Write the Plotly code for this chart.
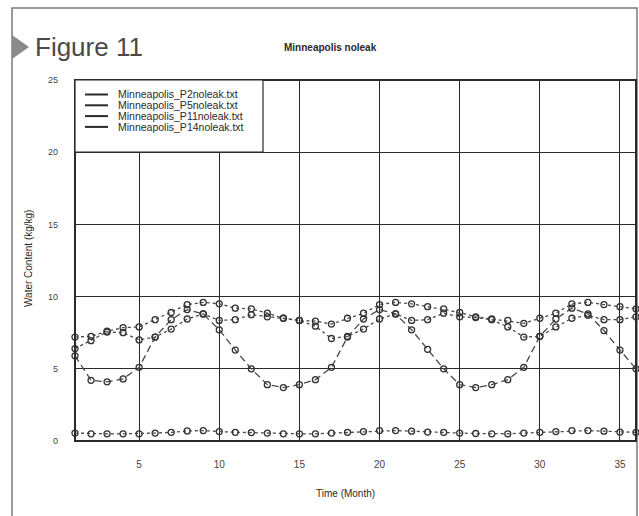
import plotly.graph_objects as go

months = list(range(1, 37))

p2 = [5.9, 4.2, 4.1, 4.3, 5.1, 7.2, 8.4, 9.1, 8.8, 7.7, 6.3, 5.0,
      3.9, 3.7, 3.9, 4.25, 5.1, 7.2, 8.45, 9.1, 8.8, 7.7, 6.35, 5.0,
      3.9, 3.7, 3.9, 4.25, 5.1, 7.25, 8.45, 9.2, 8.8, 7.65, 6.3, 5.0]

p5 = [6.4, 6.95, 7.55, 7.5, 7.0, 7.2, 7.75, 8.45, 8.8, 8.35, 8.4, 8.75,
      8.6, 8.5, 8.35, 7.95, 7.1, 7.25, 7.75, 8.45, 8.8, 8.35, 8.4, 8.85,
      8.6, 8.55, 8.4, 7.9, 7.2, 7.25, 7.9, 8.5, 8.7, 8.4, 8.4, 8.6]

p11 = [7.2, 7.25, 7.6, 7.85, 7.9, 8.4, 8.9, 9.45, 9.6, 9.5, 9.2, 9.15,
       8.85, 8.5, 8.35, 8.3, 8.1, 8.5, 8.85, 9.45, 9.6, 9.5, 9.3, 9.15,
       8.9, 8.6, 8.45, 8.35, 8.15, 8.5, 8.85, 9.5, 9.6, 9.45, 9.3, 9.15]

p14 = [0.55, 0.5, 0.5, 0.5, 0.5, 0.55, 0.6, 0.7, 0.72, 0.65, 0.6, 0.58,
       0.55, 0.5, 0.5, 0.5, 0.55, 0.6, 0.65, 0.72, 0.72, 0.68, 0.62, 0.6,
       0.55, 0.52, 0.5, 0.5, 0.55, 0.6, 0.65, 0.72, 0.72, 0.68, 0.62, 0.6]

names = ["Minneapolis_P2noleak.txt", "Minneapolis_P5noleak.txt",
         "Minneapolis_P11noleak.txt", "Minneapolis_P14noleak.txt"]
series = [p2, p5, p11, p14]
dashes = ["7px,4px", "3px,3px", "3px,3px", "3px,3px"]

x_ticks = [5, 10, 15, 20, 25, 30, 35]
y_ticks = [0, 5, 10, 15, 20, 25]

INK = "#2a2a2a"
FONT = "Liberation Sans, Arial, sans-serif"

fig = go.Figure()
for name, ys, d in zip(names, series, dashes):
    fig.add_trace(go.Scatter(
        x=months, y=ys, mode="lines+markers", name=name, showlegend=False,
        line=dict(color="#4a4a4a", width=1.3, dash=d),
        marker=dict(symbol="circle-open", size=6, color="#333333",
                    line=dict(width=1.3, color="#333333")),
        cliponaxis=False,
    ))

# plot area in pixels: x 75..636, y 80..441
L, R, T, B = 75, 636, 80, 441
W, H = R - L, B - T
def px(x):
    return (x - L) / W
def py(y):
    return (B - y) / H

shapes = [
    # scanned page frame
    dict(type="rect", xref="paper", yref="paper",
         x0=px(12), x1=px(637), y0=py(522), y1=py(8),
         line=dict(color="#7a7a7a", width=1.5)),
    # Figure 11 arrow marker
    dict(type="path", xref="paper", yref="paper",
         path=f"M {px(12)},{py(35)} L {px(29)},{py(47)} L {px(12)},{py(59)} Z",
         fillcolor="#8a8a8a", line=dict(width=0)),
    # plot frame
    dict(type="rect", xref="paper", yref="paper", x0=0, x1=1, y0=0, y1=1,
         line=dict(color=INK, width=2)),
    # legend box
    dict(type="rect", xref="paper", yref="paper", layer="above",
         x0=0, x1=px(263), y0=py(152), y1=1,
         fillcolor="white", line=dict(color=INK, width=1.2)),
]

annotations = [
    dict(text="Figure 11", xref="paper", yref="paper", x=px(33), y=py(47),
         xanchor="left", yanchor="middle", showarrow=False,
         font=dict(family=FONT, size=26, color="#4a4a4a")),
    dict(text="<b>Minneapolis noleak</b>", xref="paper", yref="paper",
         x=px(330), y=py(48), xanchor="center", yanchor="middle",
         showarrow=False, font=dict(family=FONT, size=10, color=INK)),
    dict(text="Time (Month)", xref="paper", yref="paper",
         x=px(345), y=py(493), xanchor="center", yanchor="middle",
         showarrow=False, font=dict(family=FONT, size=10, color=INK)),
    dict(text="Water Content (kg/kg)", xref="paper", yref="paper",
         x=px(28), y=py(258), xanchor="center", yanchor="middle",
         textangle=-90, showarrow=False,
         font=dict(family=FONT, size=10, color=INK)),
]

# hand-built legend (compact spacing like the original)
for i, name in enumerate(names):
    yy = 94.5 + i * 10.8
    shapes.append(dict(type="line", xref="paper", yref="paper", layer="above",
                       x0=px(85), x1=px(108), y0=py(yy), y1=py(yy),
                       line=dict(color=INK, width=2)))
    annotations.append(dict(text=name, xref="paper", yref="paper",
                            x=px(116), y=py(yy), xanchor="left",
                            yanchor="middle", showarrow=False,
                            font=dict(family=FONT, size=10.5, color=INK)))

fig.update_layout(
    width=639, height=516,
    margin=dict(l=L, r=639 - R, t=T, b=516 - B),
    paper_bgcolor="white", plot_bgcolor="white",
    font=dict(family=FONT, size=10, color=INK),
    shapes=shapes, annotations=annotations,
    showlegend=False,
    xaxis=dict(range=[1, 36], tickvals=x_ticks, showgrid=True,
               gridcolor=INK, gridwidth=1, zeroline=False, showline=False,
               ticks="", ticklabelstandoff=16,
               tickfont=dict(family=FONT, size=10, color="#444444")),
    yaxis=dict(range=[0, 25], tickvals=y_ticks, showgrid=True,
               gridcolor=INK, gridwidth=1, zeroline=False, showline=False,
               ticks="", ticklabelstandoff=16,
               tickfont=dict(family=FONT, size=9, color="#444444")),
)

fig.write_html("out.html")
